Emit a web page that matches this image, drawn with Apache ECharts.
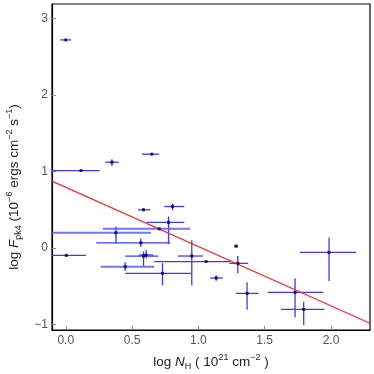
<!DOCTYPE html>
<html>
<head>
<meta charset="utf-8">
<script src="https://cdn.jsdelivr.net/npm/echarts@6/dist/echarts.min.js"></script>
<style>
  html, body { margin: 0; padding: 0; background: #fff; }
  #chart { width: 374px; height: 374px; }
</style>
</head>
<body>
<div id="chart"></div>
<script>
  // log N_H, log F_pk4 and error bar ends
  const xVals = [0.00, 0.115, 0.348, 0.649, 0.586, 0.805, 0.775, 0.704, 0.378, 0.566, 0.004, 0.586,
    0.606, 0.448, 0.729, 0.950, 1.058, 1.134, 1.284, 1.297, 1.367, 1.729, 1.794, 1.985]
  const yVals = [2.72, 1.01, 1.12, 1.225, 0.497, 0.54, 0.332, 0.248, 0.196, 0.065, -0.10, -0.108,
    -0.095, -0.248, -0.335, -0.108, -0.18, -0.396, 0.022, -0.204, -0.597, -0.584, -0.806, -0.06]
  const xLow = [-0.04, -0.15, 0.297, 0.574, 0.544, 0.742, 0.612, 0.28, -0.15, 0.23, -0.15, 0.448,
    0.55, 0.265, 0.448, 0.845, 0.667, 1.088, 1.27, 1.234, 1.282, 1.523, 1.623, 1.766]
  const xHigh = [0.04, 0.255, 0.398, 0.704, 0.637, 0.893, 0.894, 0.938, 0.642, 0.787, 0.152, 0.699,
    0.66, 0.667, 0.95, 1.034, 1.24, 1.184, 1.30, 1.375, 1.452, 1.942, 1.95, 2.188]
  const yLow = [2.72, 1.01, 1.07, 1.225, 0.48, 0.49, 0.05, 0.248, 0.057, 0.015, -0.10, -0.24,
    -0.14, -0.30, -0.49, -0.49, -0.18, -0.43, 0.005, -0.335, -0.81, -0.91, -1.01, -0.435]
  const yHigh = [2.72, 1.01, 1.16, 1.225, 0.515, 0.58, 0.41, 0.248, 0.275, 0.12, -0.10, -0.05,
    -0.03, -0.19, -0.20, 0.10, -0.18, -0.36, 0.04, -0.108, -0.45, -0.40, -0.706, 0.136]

  // fitted line
  const fitX = [-0.104, 2.294]
  const fitY = [0.872, -0.988]

  const xTicks = [0.0, 0.5, 1.0, 1.5, 2.0]
  const yTicks = [-1, 0, 1, 2, 3]

  const faint = [7, 8, 13]

  const bars = xVals.map((x, i) => [x, yVals[i], xLow[i], xHigh[i], yLow[i], yHigh[i], faint.indexOf(i) >= 0 ? 1 : 0])
  const points = xVals.map((x, i) => [x, yVals[i]])

  const myChart = echarts.init(document.getElementById('chart'))
  const font = 'Liberation Sans'
  const rich = {
    i: { fontStyle: 'italic', fontSize: 13.5, fontFamily: font, color: '#222', lineHeight: 18 },
    sub: { fontSize: 9, fontFamily: font, color: '#222', verticalAlign: 'bottom', lineHeight: 18 },
    sup: { fontSize: 9, fontFamily: font, color: '#222', verticalAlign: 'top', lineHeight: 18 }
  }

  const option = {
    backgroundColor: '#fff',
    animation: false,
    grid: {
      left: 52, right: 4, top: 4, bottom: 44,
      containLabel: false,
      outerBoundsMode: 'none',
      show: true, borderColor: '#000', borderWidth: 1.2
    },
    xAxis: {
      type: 'value',
      min: -0.104,
      max: 2.294,
      axisLine: { show: true, onZero: false, lineStyle: { color: '#000', width: 1.2 } },
      axisTick: { show: true, inside: true, length: 4, customValues: xTicks, lineStyle: { color: '#888' } },
      axisLabel: {
        customValues: xTicks, margin: 5, color: '#555', fontFamily: font, fontSize: 12,
        formatter: v => v.toFixed(1)
      },
      splitLine: { show: false },
      name: 'log {i|N}{sub|H} ( 10{sup|21} cm{sup|−2} )',
      nameLocation: 'middle',
      nameGap: 23,
      nameTextStyle: { color: '#222', fontFamily: font, fontSize: 13.5, lineHeight: 18, rich: rich }
    },
    yAxis: {
      type: 'value',
      min: -1.076,
      max: 3.19,
      axisLine: { show: true, onZero: false, lineStyle: { color: '#000', width: 1.2 } },
      axisTick: { show: true, inside: true, length: 4, customValues: yTicks, lineStyle: { color: '#888' } },
      axisLabel: {
        customValues: yTicks, margin: 4, color: '#555', fontFamily: font, fontSize: 12,
        formatter: v => String(v).replace('-', '−')
      },
      splitLine: { show: false },
      name: 'log {i|F}{sub|pk4} (10{sup|−6} ergs cm{sup|−2} s{sup|−1})',
      nameLocation: 'middle',
      nameGap: 23,
      nameTextStyle: {
        color: '#222', fontFamily: font, fontSize: 13.5, lineHeight: 18,
        padding: [0, 40, 0, 0],
        rich: rich
      }
    },
    series: [
      {
        type: 'custom',
        clip: true,
        z: 2,
        data: bars,
        renderItem: function (params, api) {
          const c = api.coord([api.value(0), api.value(1)])
          const xl = api.coord([api.value(2), api.value(1)])
          const xh = api.coord([api.value(3), api.value(1)])
          const yl = api.coord([api.value(0), api.value(4)])
          const yh = api.coord([api.value(0), api.value(5)])
          const light = api.value(6) === 1
          const style = {
            stroke: light ? 'rgba(90,90,255,0.85)' : '#3a3aff',
            lineWidth: light ? 2 : 1.3
          }
          return {
            type: 'group',
            children: [
              { type: 'line', shape: { x1: xl[0], y1: c[1], x2: xh[0], y2: c[1] }, style: style },
              { type: 'line', shape: { x1: c[0], y1: yl[1], x2: c[0], y2: yh[1] }, style: style }
            ]
          }
        }
      },
      {
        type: 'line',
        z: 3,
        data: fitX.map((x, i) => [x, fitY[i]]),
        symbol: 'none',
        lineStyle: { color: '#ff2a2a', width: 1.2 }
      },
      {
        type: 'scatter',
        z: 4,
        data: points,
        symbol: 'rect',
        symbolSize: 3,
        itemStyle: { color: '#000030' }
      }
    ]
  }
  myChart.setOption(option)
</script>
</body>
</html>
